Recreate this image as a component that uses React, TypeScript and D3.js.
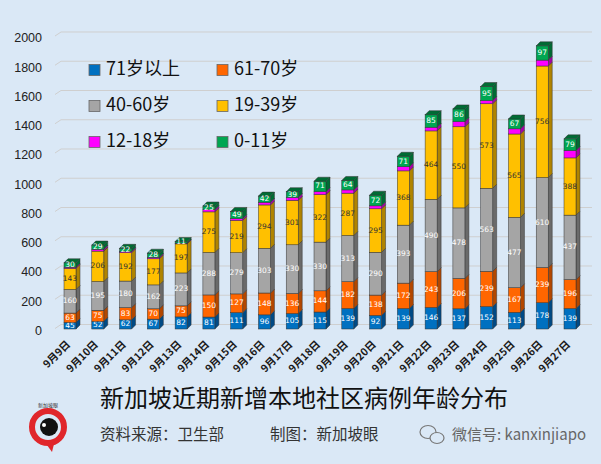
import React from 'react';
import * as d3 from 'd3';

const dates = ['9月9日', '9月10日', '9月11日', '9月12日', '9月13日', '9月14日', '9月15日', '9月16日', '9月17日', '9月18日',
  '9月19日', '9月20日', '9月21日', '9月22日', '9月23日', '9月24日', '9月25日', '9月26日', '9月27日'];

const age71plus = [45, 52, 62, 67, 82, 81, 111, 96, 105, 115, 139, 92, 139, 146, 137, 152, 113, 178, 139];
const age61to70 = [63, 75, 83, 70, 75, 150, 127, 148, 136, 144, 182, 138, 172, 243, 206, 239, 167, 239, 196];
const age40to60 = [160, 195, 180, 162, 223, 288, 279, 303, 330, 330, 313, 290, 393, 490, 478, 563, 477, 610, 437];
const age19to39 = [143, 206, 192, 177, 197, 275, 219, 294, 301, 322, 287, 295, 368, 464, 550, 573, 565, 756, 388];
const age12to18 = [8, 12, 8, 10, 5, 15, 12, 18, 20, 20, 22, 20, 28, 25, 35, 22, 35, 40, 50];
const age0to11 = [30, 29, 22, 28, 11, 25, 49, 42, 39, 71, 64, 72, 71, 85, 86, 95, 67, 97, 79];

const yTicks = [0, 200, 400, 600, 800, 1000, 1200, 1400, 1600, 1800, 2000];

const series = [
  { key: '71岁以上', values: age71plus, fill: '#0070C0', side: '#004a85', text: '#fff', label: true },
  { key: '61-70岁', values: age61to70, fill: '#FF6600', side: '#b34700', text: '#fff', label: true },
  { key: '40-60岁', values: age40to60, fill: '#A5A5A5', side: '#6a6a6a', text: '#fff', label: true },
  { key: '19-39岁', values: age19to39, fill: '#FFC000', side: '#b08400', text: '#333', label: true },
  { key: '12-18岁', values: age12to18, fill: '#FF00FF', side: '#a800a8', text: '#fff', label: false },
  { key: '0-11岁', values: age0to11, fill: '#00A651', side: '#006b34', text: '#fff', label: true },
];

const W = 601;
const H = 464;
const depth = 4;
const barW = 12;

export default function App() {
  const rows = dates.map((d, i) => {
    const r: Record<string, any> = { date: d };
    series.forEach(s => { r[s.key] = s.values[i]; });
    return r;
  });
  const stacked = d3.stack().keys(series.map(s => s.key))(rows as any);

  const x = d3.scalePoint<string>().domain(dates).range([70, 570]);
  // front face of the bars sits a little in front of (and below) the back wall
  const y = d3.scaleLinear().domain([0, 2000]).range([329, 34]);
  const yWall = d3.scaleLinear().domain([0, 2000]).range([324.5, 32]);

  return (
    <svg width={W} height={H} style={{ position: 'absolute', left: 0, top: 0 }}>
      <rect width={W} height={H} fill="#dae8f6" />

      {/* back wall gridlines */}
      <g stroke="#cfcfcf" strokeWidth={1} fill="none">
        {yTicks.map(t => (
          <path key={t} d={`M55,${yWall(t) + depth} L${55 + depth + 2},${yWall(t)} L592,${yWall(t)}`} />
        ))}
      </g>

      {/* y axis labels */}
      <g fontFamily="'Liberation Sans', Arial, sans-serif" fontSize={12.5} fill="#222" textAnchor="end">
        {yTicks.map(t => (
          <text key={t} x={42} y={yWall(t) + 7} dominantBaseline="middle">{t}</text>
        ))}
      </g>

      {/* bars */}
      {dates.map((d, i) => {
        const cx = x(d) as number;
        const x0 = cx - barW / 2;
        return (
          <g key={d}>
            {stacked.map((layer, li) => {
              const s = series[li];
              const y0 = y(layer[i][0]);
              const y1 = y(layer[i][1]);
              const h = y0 - y1;
              const isTop = li === stacked.length - 1;
              return (
                <g key={s.key} stroke="#333" strokeWidth={0.5}>
                  <path d={`M${x0 + barW},${y1} L${x0 + barW + depth},${y1 - depth} L${x0 + barW + depth},${y0 - depth} L${x0 + barW},${y0} Z`} fill={s.side} />
                  <rect x={x0} y={y1} width={barW} height={h} fill={s.fill} />
                  {isTop && (
                    <path d={`M${x0},${y1} L${x0 + depth},${y1 - depth} L${x0 + barW + depth},${y1 - depth} L${x0 + barW},${y1} Z`} fill={s.side} />
                  )}
                  {s.label && (
                    <text x={cx} y={(y0 + y1) / 2} textAnchor="middle" dominantBaseline="middle"
                      fontFamily="'DejaVu Sans', sans-serif" fontSize={7.5} fill={s.text} stroke="none">
                      {s.values[i]}
                    </text>
                  )}
                </g>
              );
            })}
          </g>
        );
      })}

      {/* x axis labels */}
      <g fontFamily="'Noto Sans CJK SC', sans-serif" fontSize={10.5} fontWeight="bold" fill="#1a1a1a" textAnchor="end">
        {dates.map(d => {
          const cx = (x(d) as number) - 1;
          return (
            <text key={d} x={cx} y={343} transform={`rotate(-45 ${cx} 343)`} dominantBaseline="middle">{d}</text>
          );
        })}
      </g>

      {/* legend */}
      <g fontFamily="'Noto Sans CJK SC', sans-serif" fontSize={18} fill="#111">
        {series.map((s, i) => {
          const col = i % 2;
          const row = Math.floor(i / 2);
          const lx = col === 0 ? 89 : 217;
          const ly = 70 + row * 36;
          return (
            <g key={s.key}>
              <rect x={lx} y={ly - 5.5} width={11} height={11} fill={s.fill} stroke="#666" strokeWidth={0.8} />
              <text x={lx + 17} y={ly} dominantBaseline="middle">{s.key}</text>
            </g>
          );
        })}
      </g>

      {/* logo */}
      <g>
        <text x={48} y={407} textAnchor="middle" fontFamily="'Noto Sans CJK SC', sans-serif" fontSize={5} fill="#333">新加坡眼</text>
        <circle cx={48} cy={427} r={16} fill="none" stroke="#e0262b" strokeWidth={6} />
        <path d="M44,441 L52,452 L55,440 Z" fill="#e0262b" />
        <circle cx={49} cy={427} r={9} fill="#111" />
        <circle cx={44} cy={425} r={2} fill="#fff" />
      </g>

      {/* title */}
      <text x={100} y={400} dominantBaseline="middle" fontFamily="'Noto Sans CJK SC', sans-serif" fontSize={24} fill="#111">
        新加坡近期新增本地社区病例年龄分布
      </text>
      <g fontFamily="'Noto Sans CJK SC', sans-serif" fontSize={15.5} fill="#333">
        <text x={100} y={436} dominantBaseline="middle">资料来源：卫生部</text>
        <text x={270} y={436} dominantBaseline="middle">制图：新加坡眼</text>
      </g>

      {/* wechat icon */}
      <g fill="#dae8f6" stroke="#777" strokeWidth={1.2}>
        <ellipse cx={428} cy={432} rx={8} ry={6.5} />
        <ellipse cx={437} cy={438} rx={7} ry={5.5} />
      </g>
      <text x={452} y={436} dominantBaseline="middle" fontFamily="'Noto Sans CJK SC', sans-serif" fontSize={15} fill="#666">
        微信号: kanxinjiapo
      </text>
    </svg>
  );
}
